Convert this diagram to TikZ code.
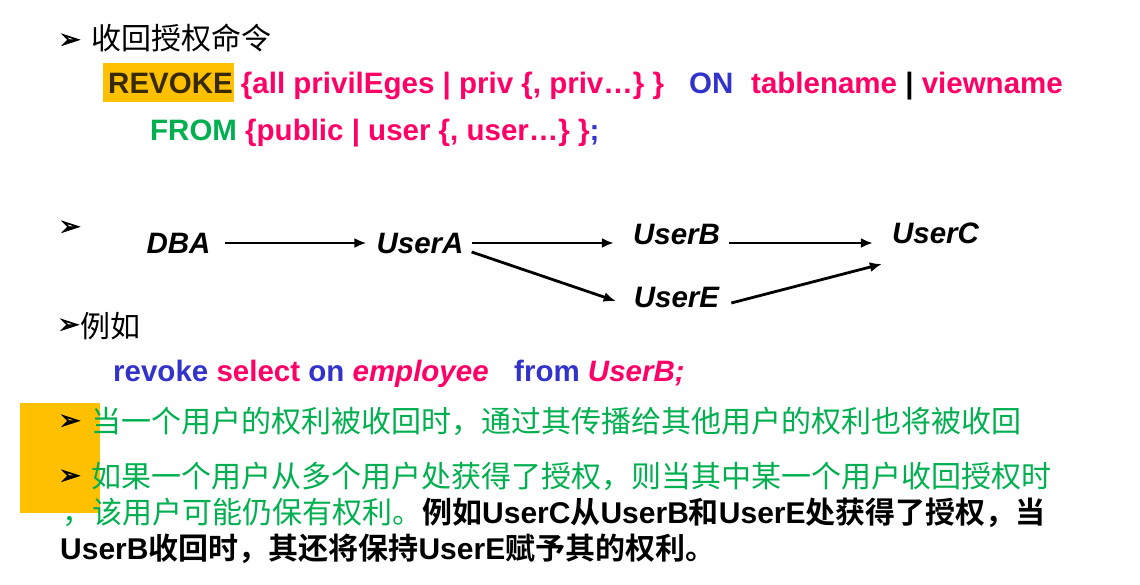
\documentclass[tikz,border=0pt]{standalone}
\usepackage{fontspec}
\setmainfont{Liberation Sans}
\newfontfamily\cjk{Noto Sans CJK SC}[BoldFont={Noto Sans CJK SC Bold}]
\newfontfamily\dv{DejaVu Sans}[FakeBold=2.5]
\usetikzlibrary{arrows.meta}
\definecolor{myred}{RGB}{255,0,102}
\definecolor{myblue}{RGB}{51,51,204}
\definecolor{mygreen}{RGB}{0,176,80}
\definecolor{myorange}{RGB}{255,192,0}
\definecolor{revk}{RGB}{55,42,0}
\newcommand\zh[1]{{\cjk #1}}
\begin{document}
\begin{tikzpicture}[x=1pt,y=-1pt,
  txt/.style={inner sep=0pt, anchor=base west, font=\fontsize{29.5}{32}\selectfont\bfseries},
  zhtxt/.style={inner sep=0pt, anchor=base west, font=\fontsize{30}{32}\selectfont},
  bul/.style={inner sep=0pt, font=\dv\bfseries\fontsize{26}{26}\selectfont},
  user/.style={inner sep=0pt, anchor=base, font=\fontsize{29.5}{32}\selectfont\bfseries\itshape},
  arr/.style={line width=2.8pt, -{Latex[length=12pt,width=10pt]}},
  hl/.style={fill=myorange, draw=none}]
\useasboundingbox[fill=white] (0,0) rectangle (1140,585);

% highlight boxes
\fill[hl] (20,403) rectangle (100,513);
\fill[hl] (103,63) rectangle (234,102);

% line 1
\node[bul] (b1) at (70,41) {➢};
\node[zhtxt] (t1) at (91,50) {\zh{收回授权命令}};

% REVOKE syntax
\node[txt] (rev) at (108,94) {\color{revk}REVOKE \color{myred}\{all privilEges | priv \{, priv…\} \}};
\node[txt, text=myblue] (on) at (689,94) {ON};
\node[txt, text=myred] (tab) at (751,94) {tablename {\color{black}|} viewname};
\node[txt] (from) at (150,141) {\color{mygreen}FROM \color{myred}\{public | user \{, user…\} \}\color{myblue};};

% diagram
\node[bul] (b2) at (70,228) {➢};
\node[user] (dba) at (178.5,254) {DBA};
\node[user] (usera) at (420,254) {UserA};
\node[user] (userb) at (676.5,245) {UserB};
\node[user] (usere) at (676.5,307) {UserE};
\node[user] (userc) at (935.5,244) {UserC};

\draw[arr] ([shift={(14,-11)}]dba.base east) -- ([shift={(-10,-11)}]usera.base west);
\draw[arr] ([shift={(8,-11)}]usera.base east) -- ([shift={(-19,-2)}]userb.base west);
\draw[arr] ([shift={(9,-2)}]userb.base east) -- ([shift={(-19,-1)}]userc.base west);
\draw[arr] ([shift={(8,-2)}]usera.base east) -- ([shift={(-18,-6)}]usere.base west);
\draw[arr] ([shift={(12,-4)}]usere.base east) -- ([shift={(-10,20)}]userc.base west);

% example
\node[bul] (b3) at (69,326) {➢};
\node[zhtxt] (ex) at (80,337) {\zh{例如}};
\node[txt, text=myblue] (cmd1) at (113,381) {revoke {\color{myred}select} on {\color{myred}\itshape employee}};
\node[txt, text=myblue] (cmd2) at (514,381) {from {\color{myred}\itshape UserB;}};

% notes
\node[bul] (b4) at (70,422) {➢};
\node[zhtxt, text=mygreen] (n1) at (91,432) {\zh{当一个用户的权利被收回时，通过其传播给其他用户的权利也将被收回}};
\node[bul] (b5) at (70,477) {➢};
\node[zhtxt, text=mygreen] (n2) at (91,487) {\zh{如果一个用户从多个用户处获得了授权，则当其中某一个用户收回授权时}};
\node[zhtxt] (n3) at (62,523) {{\color{mygreen}\zh{，该用户可能仍保有权利。}}\bfseries\zh{例如}UserC\zh{从}UserB\zh{和}UserE\zh{处获得了授权，当}};
\node[zhtxt, font=\fontsize{30}{32}\selectfont\bfseries] (n4) at (60,559) {UserB\zh{收回时，其还将保持}UserE\zh{赋予其的权利。}};
\end{tikzpicture}
\end{document}
